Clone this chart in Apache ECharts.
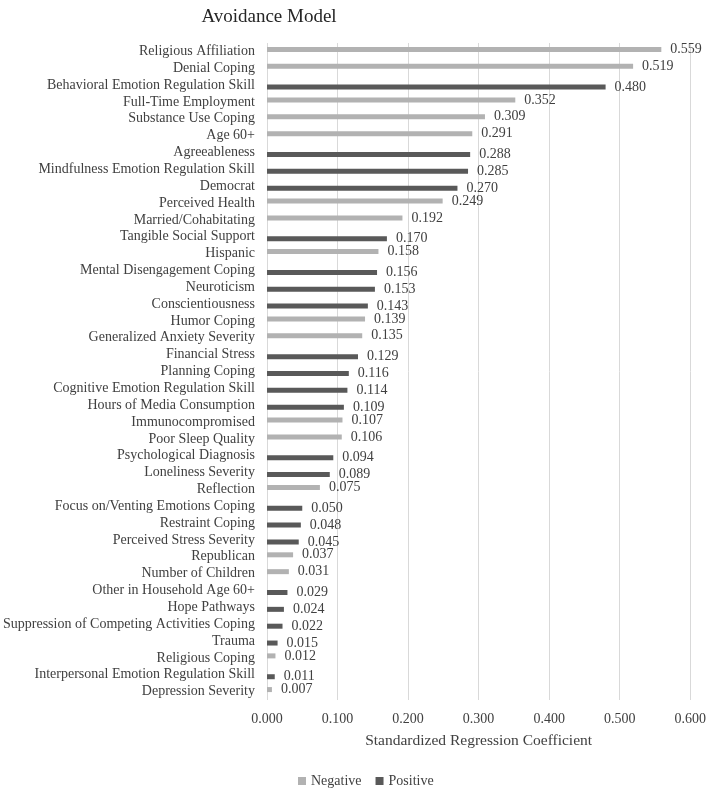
<!DOCTYPE html>
<html>
<head>
<meta charset="utf-8">
<script src="https://cdn.jsdelivr.net/npm/echarts@6/dist/echarts.min.js"></script>
<style>html,body{margin:0;padding:0;background:#fff;}#c{width:709px;height:789px;}</style>
</head>
<body>
<div id="c"></div>
<script>
const categories = ["Religious Affiliation","Denial Coping","Behavioral Emotion Regulation Skill","Full-Time Employment","Substance Use Coping","Age 60+","Agreeableness","Mindfulness Emotion Regulation Skill","Democrat","Perceived Health","Married/Cohabitating","Tangible Social Support","Hispanic","Mental Disengagement Coping","Neuroticism","Conscientiousness","Humor Coping","Generalized Anxiety Severity","Financial Stress","Planning Coping","Cognitive Emotion Regulation Skill","Hours of Media Consumption","Immunocompromised","Poor Sleep Quality","Psychological Diagnosis","Loneliness Severity","Reflection","Focus on/Venting Emotions Coping","Restraint Coping","Perceived Stress Severity","Republican","Number of Children","Other in Household Age 60+","Hope Pathways","Suppression of Competing Activities Coping","Trauma","Religious Coping","Interpersonal Emotion Regulation Skill","Depression Severity"];
const values = [0.559,0.519,0.480,0.352,0.309,0.291,0.288,0.285,0.270,0.249,0.192,0.170,0.158,0.156,0.153,0.143,0.139,0.135,0.129,0.116,0.114,0.109,0.107,0.106,0.094,0.089,0.075,0.050,0.048,0.045,0.037,0.031,0.029,0.024,0.022,0.015,0.012,0.011,0.007];
const signs = ["N","N","P","N","N","N","P","P","P","N","N","P","N","P","P","P","N","N","P","P","P","P","N","N","P","P","N","P","P","P","N","N","P","P","P","P","N","P","N"];
const xTicks = [0,0.1,0.2,0.3,0.4,0.5,0.6];

const negData = values.map((v,i)=> signs[i]==="N" ? v : null);
const posData = values.map((v,i)=> signs[i]==="P" ? v : null);
const font = "'Liberation Serif','Times New Roman',serif";
const lbl = {show:true, position:'right', distance:9, color:'#404040', fontFamily:font, fontSize:14, formatter:p=>p.value.toFixed(3)};

const chart = echarts.init(document.getElementById('c'));
chart.setOption({
  animation:false,
  title:{text:'Avoidance Model', left:264, top:3, textAlign:'center', textStyle:{fontFamily:font, fontSize:19, fontWeight:'normal', color:'#262626'}},
  legend:{data:['Negative','Positive'], top:769, left:293, itemWidth:8, itemHeight:8, itemGap:14, icon:'rect',
    textStyle:{fontFamily:font, fontSize:14, color:'#404040'}},
  grid:{left:266, right:17, top:43, bottom:89, containLabel:false},
  xAxis:{type:'value', min:0, max:0.6, interval:0.1,
    name:'Standardized Regression Coefficient', nameLocation:'middle', nameGap:33,
    nameTextStyle:{fontFamily:font, fontSize:15.5, color:'#404040'},
    axisLine:{show:false}, axisTick:{show:false},
    axisLabel:{formatter:v=>v.toFixed(3), fontFamily:font, fontSize:14, color:'#404040', margin:12},
    splitLine:{show:true, lineStyle:{color:'#d9d9d9', width:1}}},
  yAxis:{type:'category', data:categories, inverse:true,
    axisLine:{show:false}, axisTick:{show:false},
    axisLabel:{fontFamily:font, fontSize:14, color:'#404040', margin:12, interval:0, padding:[3,0,0,0]}},
  series:[
    {name:'Negative', type:'bar', data:negData, barWidth:5, barGap:'-20%', itemStyle:{color:'#b2b2b2'}, label:lbl},
    {name:'Positive', type:'bar', data:posData, barWidth:5, barGap:'-20%', itemStyle:{color:'#595959'}, label:lbl}
  ]
});
</script>
</body>
</html>
